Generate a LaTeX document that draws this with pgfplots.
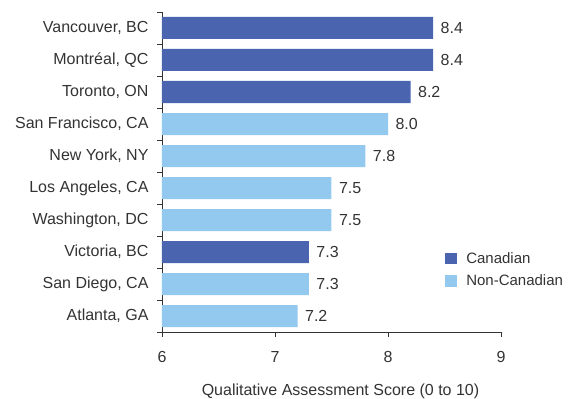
\documentclass[border=0pt]{standalone}
\usepackage{pgfplots}
\pgfplotsset{compat=1.18}
\usepackage{fontspec}
\setmainfont{Liberation Sans}
\definecolor{canblue}{RGB}{74,100,176}
\definecolor{nonblue}{RGB}{147,201,238}
\definecolor{txt}{RGB}{51,51,51}

\begin{document}
\begin{tikzpicture}
\begin{axis}[
  name=ax,
  scale only axis, width=339pt, height=320pt,
  xmin=6, xmax=9, ymin=-0.5, ymax=9.5,
  axis x line*=bottom, axis y line*=left,
  axis line style={-, draw=txt, line width=0.8pt},
  xtick={6,7,8,9},
  ytick={0,...,9},
  yticklabels={{Atlanta, GA},{San Diego, CA},{Victoria, BC},{Washington, DC},{Los Angeles, CA},{New York, NY},{San Francisco, CA},{Toronto, ON},{Montréal, QC},{Vancouver, BC}},
  minor ytick={-0.5,0.5,...,9.5},
  tick align=outside,
  major tick length=5pt, minor tick length=5pt,
  y tick style={draw=none},
  minor y tick style={draw=txt, line width=0.8pt},
  x tick style={draw=txt, line width=0.8pt},
  ticklabel style={font=\fontsize{16}{19}\selectfont, text=txt},
  yticklabel style={xshift=-5pt},
  xticklabel style={yshift=-11pt},
  /pgf/number format/assume math mode=true,
  xlabel={Qualitative Assessment Score (0 to 10)},
  xlabel style={font=\fontsize{16}{19}\selectfont, text=txt, yshift=-14pt, xshift=9pt},
  xbar, bar width=22pt, bar shift=0pt,
  point meta=x,
  nodes near coords={\pgfmathprintnumber[fixed,fixed zerofill,precision=1]{\pgfplotspointmeta}},
  every node near coord/.append style={font=\fontsize{16}{19}\selectfont, text=txt, anchor=west, xshift=4pt},
  legend style={draw=none, fill=none, at={(0.835,0.194)}, anchor=west,
    font=\fontsize{15}{18}\selectfont, text=txt, row sep=6pt, inner sep=0pt},
  legend cell align=left,
  legend image code/.code={\fill[#1] (0pt,-5.5pt) rectangle (11.5pt,6pt); \path (19pt,0pt);},
]
% Canadian cities
\addplot[fill=canblue, draw=none] coordinates {(8.4,9) (8.4,8) (8.2,7) (7.3,2)};
% Non-Canadian cities
\addplot[fill=nonblue, draw=none] coordinates {(8.0,6) (7.8,5) (7.5,4) (7.5,3) (7.3,1) (7.2,0)};
\legend{Canadian, Non-Canadian}
\end{axis}
\pgfresetboundingbox
\path[use as bounding box] ([shift={(-162pt,-66pt)}]ax.south west) rectangle ([shift={(82pt,12pt)}]ax.north east);
\end{tikzpicture}
\end{document}
